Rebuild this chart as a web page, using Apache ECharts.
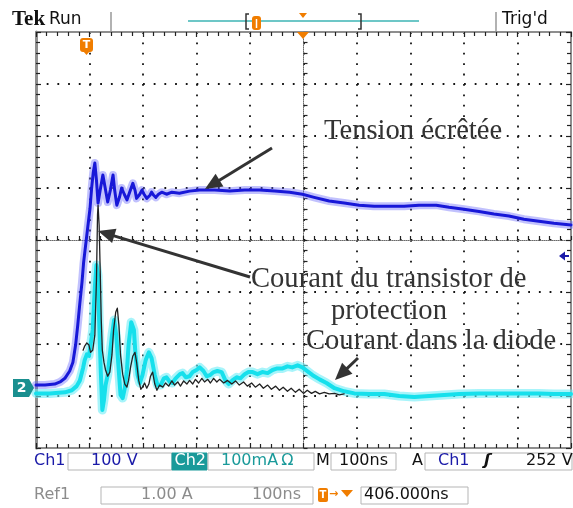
<!DOCTYPE html>
<html>
<head>
<meta charset="utf-8">
<script src="https://cdn.jsdelivr.net/npm/echarts@6/dist/echarts.min.js"></script>
<style>
  html, body { margin: 0; padding: 0; background: #ffffff; }
  #scope { width: 573px; height: 508px; }
</style>
</head>
<body>
<div id="scope"></div>
<script>
// Ch1: clamped voltage (V), 100 V/div. Times in ns relative to the trigger.
const ch1Times = [-94,-77,-59,-49,-40,-31,-25,-20,-16,-12,-8,-5,-1,3,7,10,13,16,19,22,26,31,36,40,45,50,53,57,62,66,71,76,81,87,91,94,100,104,108,113,119,122,126,130,135,141,150,160,174,193,212,240,268,296,324,352,380,404,426,454,482,510,538,566,594,622,654,678,706,734,762,790,818,846,874,906];
const ch1Volts = [4,4,6,10,17,31,48,81,119,162,202,240,275,310,344,383,413,431,398,354,379,408,379,356,379,408,379,350,365,383,371,360,375,392,379,363,371,379,371,363,369,375,369,365,371,375,371,375,373,377,379,379,377,379,379,377,375,371,365,358,354,350,348,348,348,350,350,346,342,338,333,329,323,319,315,312];

// Ch2: diode current (mA), 100 mA/div
const ch2Times = [-94,-68,-40,-27,-18,-12,-6,-3,1,5,8,12,16,19,22,24,27,30,33,36,40,44,48,52,56,60,64,68,72,76,79,84,89,92,96,100,105,111,117,122,128,133,139,145,150,156,161,167,175,180,186,193,199,206,212,219,225,231,238,245,253,260,266,273,281,288,296,303,311,320,329,339,348,357,367,376,385,395,404,413,423,436,449,464,482,501,529,557,585,613,641,669,697,734,772,809,846,874,906];
const ch2Milliamps = [-12,-12,-10,-6,2,13,37,52,63,60,62,110,192,235,215,129,33,-44,-25,4,23,62,100,129,100,42,-15,-21,-2,33,81,125,110,62,23,8,23,52,67,56,23,4,4,17,19,10,8,17,25,27,19,21,29,33,38,31,21,23,29,31,29,13,6,13,19,17,25,29,29,25,29,27,33,36,36,40,38,42,38,31,23,15,8,-2,-8,-12,-13,-13,-17,-19,-17,-15,-13,-12,-12,-12,-12,-13,-13];

// Ref1: protection transistor current (A), 1.00 A/div
const ref1Times = [-6,-3,1,5,8,12,16,19,21,22,24,26,28,30,33,36,40,44,48,51,55,58,61,64,68,72,76,79,83,87,91,94,98,102,105,109,113,117,120,124,128,132,137,143,148,154,160,165,171,176,182,188,193,199,204,210,216,221,227,232,238,244,249,257,264,272,279,286,294,301,309,316,324,331,339,346,354,361,368,376,383,391,398,406,413,421,428,436,445,454,464,473,482];
const ref1Amps = [0.71,0.79,0.85,0.81,0.67,0.71,1.0,2.06,3.31,3.5,3.12,2.25,1.29,0.71,0.48,0.33,0.21,0.29,0.62,1.1,1.44,1.52,1.19,0.62,0.25,0.06,0,0.13,0.40,0.6,0.67,0.48,0.13,-0.04,0,0.08,-0.02,0.06,0.21,0.29,0.06,-0.06,0.04,0,0.08,0.02,0.12,0.04,0.1,0.02,0.12,0.06,0.13,0.06,0.15,0.08,0.17,0.1,0.15,0.08,0.17,0.1,0.15,0.08,0.13,0.06,0.12,0.04,0.1,0.02,0.08,0,0.06,-0.02,0.04,-0.04,0.02,-0.06,0,-0.08,-0.02,-0.1,-0.04,-0.12,-0.06,-0.12,-0.08,-0.13,-0.1,-0.13,-0.12,-0.15,-0.13];

// Scope settings
const nsPerDiv = 100;
const triggerToCenterNs = 406;       // horizontal position readout
const ch1PerDiv = 100, ch2PerDiv = 100, ref1PerDiv = 1;
const groundDiv = -2.83;             // common ground level, divisions from centre
const divX = 5, divY = 4;

const xMin = triggerToCenterNs - divX * nsPerDiv;
const xMax = triggerToCenterNs + divX * nsPerDiv;
function levelAxis(perDiv) {
  return { type: 'value', show: false, min: (-divY - groundDiv) * perDiv, max: (divY - groundDiv) * perDiv };
}
function pairs(ts, vs) { return ts.map((t, i) => [t, vs[i]]); }

const GRID = { left: 36, top: 32, width: 535, height: 416 };
const stepX = GRID.width / (2 * divX) / 5, stepY = GRID.height / (2 * divY) / 5;
const dotInk = '#141414', tickInk = '#222222';

function borderAxis(pos, width) {
  const vertical = pos === 'left' || pos === 'right';
  return {
    type: 'value', position: pos, min: vertical ? -divY : -divX, max: vertical ? divY : divX, interval: 1,
    axisLine: { show: true, onZero: false, lineStyle: { color: '#8e8e8e', width: width } },
    axisTick: { show: true, inside: true, length: 5, lineStyle: { color: tickInk, width: 1.2 } },
    minorTick: { show: true, splitNumber: 5, length: 4, lineStyle: { color: tickInk, width: 1.2 } },
    axisLabel: { show: false }, splitLine: { show: false }
  };
}
function centreAxis(extent, pos, dash) {
  return {
    type: 'value', min: -extent, max: extent, interval: 1, position: pos,
    axisLine: { show: true, onZero: true, onZeroAxisIndex: 0, lineStyle: { color: '#6a6a6a', width: 1, type: [1, 1] } },
    axisTick: { show: true, inside: true, length: 4, lineStyle: { color: tickInk, width: 1.2 } },
    minorTick: { show: true, splitNumber: 5, length: 4, lineStyle: { color: tickInk, width: 1.2 } },
    axisLabel: { show: false },
    // dotted division lines, one dot every fifth of a division
    splitLine: { show: true, lineStyle: { color: dotInk, width: 1.8, type: [1.8, dash - 1.8] } }
  };
}

const xAxes = [
  centreAxis(divX, 'bottom', stepY),
  borderAxis('bottom', 2),
  borderAxis('top', 2),
  { type: 'value', show: false, min: xMin, max: xMax }
];
const yAxes = [
  centreAxis(divY, 'left', stepX),
  borderAxis('left', 3),
  borderAxis('right', 2),
  levelAxis(ch1PerDiv),
  levelAxis(ch2PerDiv),
  levelAxis(ref1PerDiv)
];

function trace(name, ts, vs, yIdx, color, width, z) {
  return {
    type: 'line', name: name, xAxisIndex: 3, yAxisIndex: yIdx, data: pairs(ts, vs),
    symbol: 'none', silent: true, z: z,
    lineStyle: { color: color, width: width, join: 'round', cap: 'round' }
  };
}

// Annotation arrows
function arrow(x1, y1, x2, y2) {
  const dx = x2 - x1, dy = y2 - y1, L = Math.hypot(dx, dy), ux = dx / L, uy = dy / L;
  const hl = 17, hw = 7.5;
  const bx = x2 - ux * hl, by = y2 - uy * hl;
  return [
    { type: 'line', z: 50, shape: { x1: x1, y1: y1, x2: bx + ux * 2, y2: by + uy * 2 }, style: { stroke: '#333', lineWidth: 3 } },
    { type: 'polygon', z: 50, shape: { points: [[x2, y2], [bx - uy * hw, by + ux * hw], [bx + uy * hw, by - ux * hw]] }, style: { fill: '#333' } }
  ];
}
function txt(text, x, y, font, fill, align) {
  return { type: 'text', z: 60, x: x, y: y, style: { text: text, font: font, fill: fill, textAlign: align || 'left', textVerticalAlign: 'middle' } };
}
function box(x1, y1, x2, y2, fill, stroke) {
  return { type: 'rect', z: 55, shape: { x: x1, y: y1, width: x2 - x1, height: y2 - y1 }, style: { fill: fill || 'none', stroke: stroke || '#b5b5b5', lineWidth: 1 } };
}

const serif = '28.6px "Liberation Serif", "Times New Roman", serif';
const ui = '16px "DejaVu Sans", sans-serif';
const blue = '#1a1aa8', teal = '#1a9a9a', orange = '#f07d00', grey = '#8c8c8c';

const graphics = [
  // header
  txt('Tek', 12, 20, 'bold 21px "Liberation Serif", serif', '#111'),
  txt('Run', 49, 20, '17px "DejaVu Sans", sans-serif', '#111'),
  { type: 'line', z: 55, shape: { x1: 111, y1: 12, x2: 111, y2: 31 }, style: { stroke: '#999', lineWidth: 1.5 } },
  { type: 'line', z: 55, shape: { x1: 496, y1: 12, x2: 496, y2: 31 }, style: { stroke: '#999', lineWidth: 1.5 } },
  { type: 'line', z: 55, shape: { x1: 188, y1: 21, x2: 419, y2: 21 }, style: { stroke: '#3cb4b4', lineWidth: 1.5 } },
  { type: 'polyline', z: 56, shape: { points: [[249, 14], [246, 14], [246, 29], [249, 29]] }, style: { stroke: '#333', lineWidth: 1.5, fill: 'none' } },
  { type: 'polyline', z: 56, shape: { points: [[358, 14], [361, 14], [361, 29], [358, 29]] }, style: { stroke: '#333', lineWidth: 1.5, fill: 'none' } },
  { type: 'rect', z: 57, shape: { x: 252, y: 16, width: 9, height: 14, r: 3 }, style: { fill: orange } },
  { type: 'line', z: 58, shape: { x1: 256.5, y1: 19, x2: 256.5, y2: 28 }, style: { stroke: '#fff', lineWidth: 1.5 } },
  { type: 'polygon', z: 57, shape: { points: [[299, 13], [307, 13], [303, 18]] }, style: { fill: orange } },
  txt("Trig'd", 502, 20, '17px "DejaVu Sans", sans-serif', '#111'),

  // trigger position markers on the graticule
  { type: 'polygon', z: 57, shape: { points: [[297, 32], [309, 32], [303, 39]] }, style: { fill: orange } },
  { type: 'rect', z: 57, shape: { x: 80, y: 38, width: 13, height: 14, r: 3 }, style: { fill: orange } },
  { type: 'polygon', z: 57, shape: { points: [[83, 51], [90, 51], [86.5, 55]] }, style: { fill: orange } },
  txt('T', 86.5, 45.5, 'bold 11px "DejaVu Sans", sans-serif', '#fff', 'center'),

  // Ch2 ground marker and Ch1 trigger level marker
  { type: 'polygon', z: 57, shape: { points: [[13, 379], [29, 379], [34, 388], [29, 397], [13, 397]] }, style: { fill: '#1a8f8f' } },
  txt('2', 21.5, 388.5, 'bold 14px "DejaVu Sans", sans-serif', '#fff', 'center'),
  { type: 'polygon', z: 57, shape: { points: [[559, 256], [565, 251.5], [565, 260.5]] }, style: { fill: blue } },
  { type: 'line', z: 57, shape: { x1: 563, y1: 256, x2: 569, y2: 256 }, style: { stroke: blue, lineWidth: 2 } },

  // annotations
  txt('Tension écrêtée', 324, 131, serif, '#333'),
  txt('Courant du transistor de', 251, 279, serif, '#333'),
  txt('protection', 331, 311, serif, '#333'),
  txt('Courant dans la diode', 306, 341, serif, '#333'),
  ...arrow(272, 148, 205, 189),
  ...arrow(250, 277, 98, 231),
  ...arrow(358, 358, 335, 380),

  // readout row 1
  txt('Ch1', 34, 461, ui, blue),
  box(68, 453, 172, 470),
  txt('100 V', 91, 461, ui, blue),
  box(172, 453, 207, 470, teal, teal),
  txt('Ch2', 174.5, 461, ui, '#fff'),
  box(208, 453, 314, 470),
  txt('100mA\u2009Ω', 221, 461, ui, teal),
  txt('M', 316, 461, ui, '#111'),
  box(331, 453, 396, 470),
  txt('100ns', 339, 461, ui, '#111'),
  txt('A', 412, 461, ui, '#111'),
  box(425, 453, 572, 470),
  txt('Ch1', 438, 461, ui, blue),
  txt('ʃ', 484, 461, 'bold italic 16px "DejaVu Sans", sans-serif', '#111'),
  txt('252 V', 526, 461, ui, '#111'),

  // readout row 2
  txt('Ref1', 34, 495, ui, grey),
  box(101, 487, 313, 504),
  txt('1.00 A', 141, 495, ui, grey),
  txt('100ns', 252, 495, ui, grey),
  { type: 'rect', z: 57, shape: { x: 318, y: 488, width: 10, height: 14, r: 2 }, style: { fill: orange } },
  txt('T', 323, 495.5, 'bold 10px "DejaVu Sans", sans-serif', '#fff', 'center'),
  txt('→', 329, 494, 'bold 11px "DejaVu Sans", sans-serif', orange),
  { type: 'polygon', z: 57, shape: { points: [[341, 490], [353, 490], [347, 497]] }, style: { fill: orange } },
  box(361, 487, 468, 504),
  txt('406.000ns', 364, 495, ui, '#111')
];

const chart = echarts.init(document.getElementById('scope'));
chart.setOption({
  animation: false,
  grid: GRID,
  xAxis: xAxes,
  yAxis: yAxes,
  series: [
    trace('Ch2 halo', ch2Times, ch2Milliamps, 4, 'rgba(110,236,246,0.6)', 9, 3),
    trace('Ch2', ch2Times, ch2Milliamps, 4, '#16e0ec', 4, 4),
    trace('Ch1 halo', ch1Times, ch1Volts, 3, 'rgba(100,100,250,0.4)', 8, 5),
    trace('Ch1', ch1Times, ch1Volts, 3, '#1818d8', 3, 6),
    trace('Ref1', ref1Times, ref1Amps, 5, '#222222', 1.3, 7)
  ],
  graphic: graphics
});
</script>
</body>
</html>
